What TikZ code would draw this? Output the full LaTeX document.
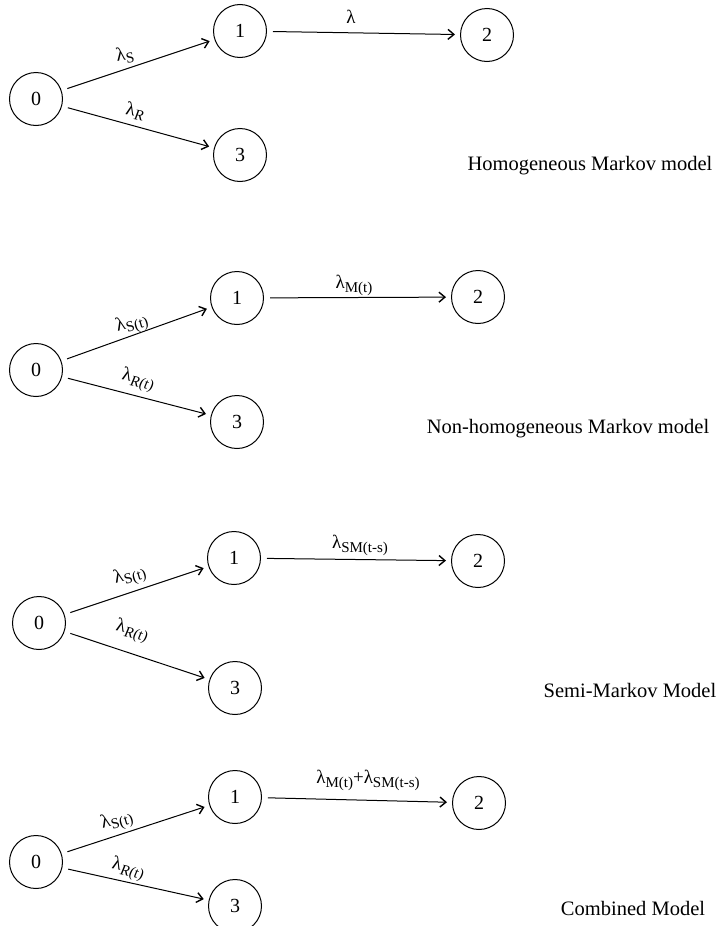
\documentclass[tikz,border=0pt]{standalone}
\usepackage{fontspec}
\setmainfont{Liberation Serif}
\usetikzlibrary{arrows.meta}
\tikzset{
  state/.style={circle,draw,line width=1pt,minimum size=53pt,inner sep=0pt,font=\fontsize{20}{20}\selectfont},
  arr/.style={line width=1pt,-{Straight Barb[length=6pt,width=10pt,line width=1.4pt]},shorten <=6pt,shorten >=5pt},
  lab/.style={font=\fontsize{19}{19}\selectfont,inner sep=1pt},
  captxt/.style={font=\fontsize{20.5}{20.5}\selectfont,anchor=center}
}
\newcommand{\sbs}[1]{\raisebox{-4pt}{\fontsize{15}{15}\selectfont #1}}
\begin{document}
\begin{tikzpicture}[x=1pt,y=-1pt]
\useasboundingbox (0,0) rectangle (715,926);
% Panel 1
\node[state] (a0) at (36,99) {0};
\node[state] (a1) at (240,31) {1};
\node[state] (a2) at (487,35) {2};
\node[state] (a3) at (240,155) {3};
\draw[arr] (a0) -- (a1);
\draw[arr] (a0) -- (a3);
\draw[arr] (a1) -- (a2);
\node[lab,rotate=10] (la1) at (125,55) {λ\sbs{S}};
\node[lab,rotate=-10] (la2) at (135,111) {λ\sbs{\textit{R}}};
\node[lab] (la3) at (351,17) {λ};
\node[captxt] (ca) at (590,166) {Homogeneous Markov model};
% Panel 2
\node[state] (b0) at (36,370) {0};
\node[state] (b1) at (237,298) {1};
\node[state] (b2) at (478,297) {2};
\node[state] (b3) at (237,422) {3};
\draw[arr] (b0) -- (b1);
\draw[arr] (b0) -- (b3);
\draw[arr] (b1) -- (b2);
\node[lab,rotate=16] (lb1) at (132,324) {λ\sbs{S(t)}};
\node[lab,rotate=-12] (lb2) at (138,380) {λ\sbs{\textit{R(t)}}};
\node[lab] (lb3) at (354,285) {λ\sbs{M(t)}};
\node[captxt] (cb) at (568,429) {Non-homogeneous Markov model};
% Panel 3
\node[state] (c0) at (39,623) {0};
\node[state] (c1) at (234,558) {1};
\node[state] (c2) at (478,561) {2};
\node[state] (c3) at (235,688) {3};
\draw[arr] (c0) -- (c1);
\draw[arr] (c0) -- (c3);
\draw[arr] (c1) -- (c2);
\node[lab,rotate=16] (lc1) at (130,576) {λ\sbs{S(t)}};
\node[lab,rotate=-12] (lc2) at (132,631) {λ\sbs{\textit{R(t)}}};
\node[lab] (lc3) at (360,545) {λ\sbs{SM(t-s)}};
\node[captxt] (cc) at (630,690) {Semi-Markov Model};
% Panel 4
\node[state] (d0) at (36,862) {0};
\node[state] (d1) at (235,797) {1};
\node[state] (d2) at (479,803) {2};
\node[state] (d3) at (235,906) {3};
\draw[arr] (d0) -- (d1);
\draw[arr] (d0) -- (d3);
\draw[arr] (d1) -- (d2);
\node[lab,rotate=16] (ld1) at (117,821) {λ\sbs{S(t)}};
\node[lab,rotate=-12] (ld2) at (128,869) {λ\sbs{\textit{R(t)}}};
\node[lab] (ld3) at (368,780) {λ\sbs{M(t)}+λ\sbs{SM(t-s)}};
\node[captxt] (cd) at (633,908) {Combined Model};
\end{tikzpicture}
\end{document}
